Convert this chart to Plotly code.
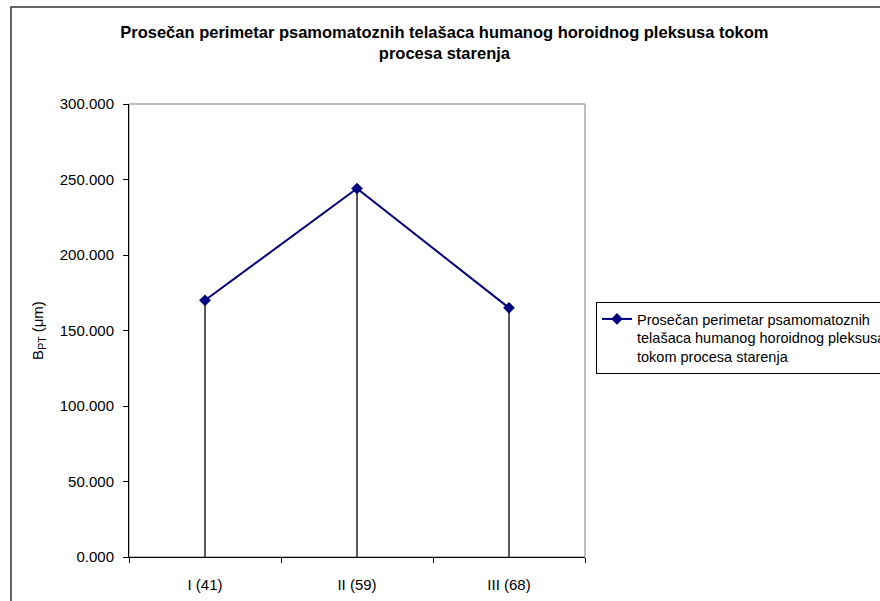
import plotly.graph_objects as go

categories = ["I (41)", "II (59)", "III (68)"]
values = [170.0, 244.0, 165.0]
series_name = "Prosečan perimetar psamomatoznih<br>telašaca humanog horoidnog pleksusa<br>tokom procesa starenja"
title_text = "<b>Prosečan perimetar psamomatoznih telašaca humanog horoidnog pleksusa tokom<br>procesa starenja</b>"
y_title = "B<sub>PT</sub> (μm)"
y_ticks = [0, 50, 100, 150, 200, 250, 300]

FONT = "Arial, Liberation Sans, sans-serif"
W, H = 880, 601
L, R, T, B = 129, 295, 104, 44
pw = W - L - R
ph = H - T - B
bottom = T + ph


def py(y_px):
    return (bottom - y_px) / ph


def px(x_px):
    return (x_px - L) / pw


fig = go.Figure()
fig.add_trace(go.Scatter(
    x=categories, y=values, name=series_name, mode="lines+markers",
    line=dict(color="#000080", width=2),
    marker=dict(symbol="diamond", size=9, color="#000080"),
    error_y=dict(type="data", symmetric=False, array=[0] * len(values),
                 arrayminus=values, color="black", thickness=1.3, width=0),
    hoverinfo="skip",
))

fig.update_layout(
    width=W, height=H,
    margin=dict(l=L, r=R, t=T, b=B, autoexpand=False),
    paper_bgcolor="white", plot_bgcolor="white",
    font=dict(family=FONT, size=15, color="black"),
    title=dict(text=title_text, x=0.505, xref="container", xanchor="center",
               y=1 - 38 / H, yref="container", yanchor="top",
               font=dict(family=FONT, size=16.5, color="black")),
    showlegend=True,
    legend=dict(x=px(596), y=py(302), xanchor="left", yanchor="top",
                bordercolor="black", borderwidth=1, bgcolor="white",
                font=dict(family=FONT, size=14.5, color="black"), valign="top",
                tracegroupgap=0),
    xaxis=dict(type="category", range=[-0.5, 2.5], tickson="boundaries",
               ticks="outside", ticklen=5, tickcolor="black",
               showline=True, linecolor="black", linewidth=1,
               showgrid=False, zeroline=False, ticklabelstandoff=14,
               tickfont=dict(size=15)),
    yaxis=dict(range=[0, 300], tickvals=y_ticks, tickformat=".3f",
               ticks="outside", ticklen=5, tickcolor="black",
               showline=True, linecolor="black", linewidth=1,
               showgrid=False, zeroline=False, ticklabelstandoff=6,
               tickfont=dict(size=15),
               title=dict(text=y_title, font=dict(size=15), standoff=12)),
    shapes=[
        dict(type="rect", xref="paper", yref="paper", x0=0, x1=1, y0=0, y1=1,
             line=dict(color="#808080", width=1), layer="below"),
        dict(type="rect", xref="paper", yref="paper",
             x0=px(11), x1=px(W + 40), y0=py(H + 40), y1=py(7),
             line=dict(color="#333333", width=1.5), layer="above",
             fillcolor="rgba(0,0,0,0)"),
    ],
)

fig.write_html("out.html", config={"displayModeBar": False},
               post_script="document.body.style.margin='0';")
